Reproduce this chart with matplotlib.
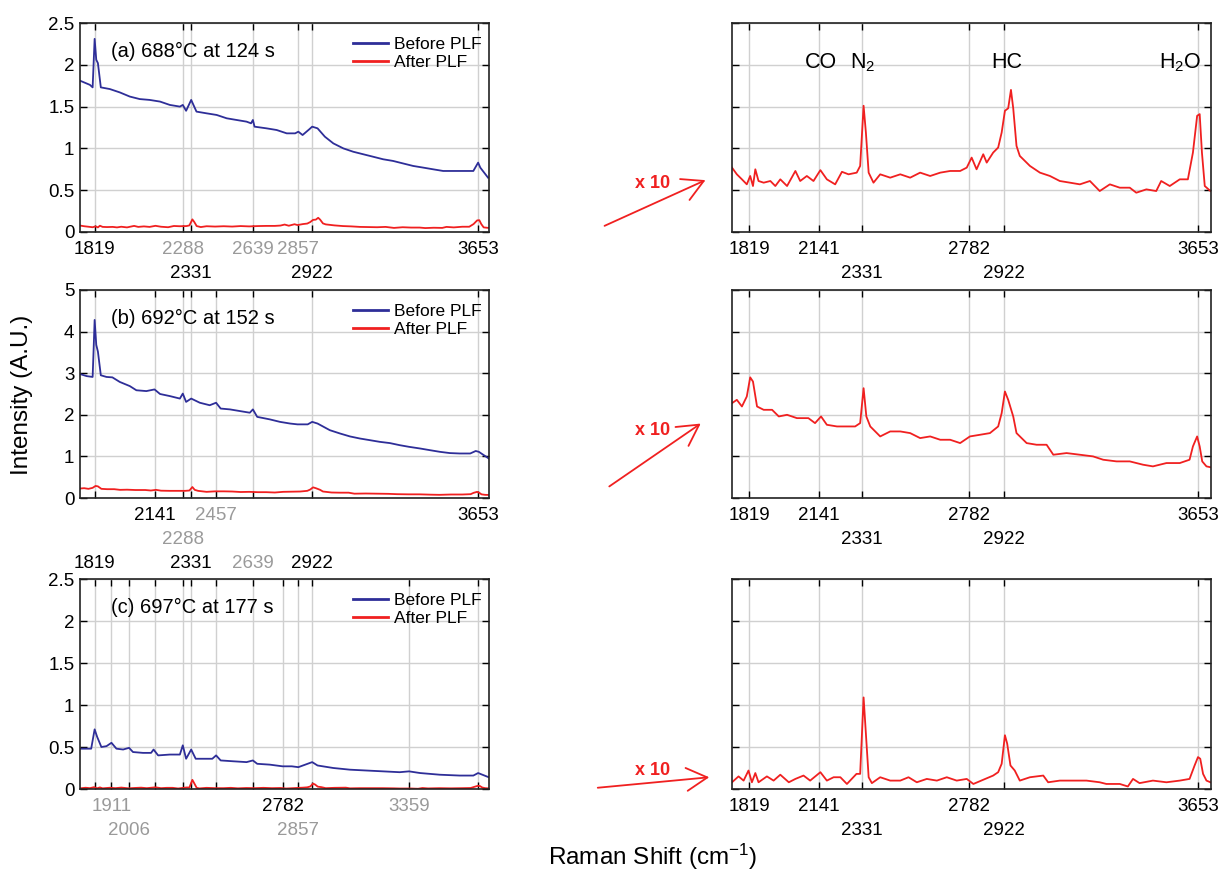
import numpy as np
import matplotlib
matplotlib.use("Agg")
import matplotlib.pyplot as plt
from matplotlib.patches import FancyArrowPatch
from matplotlib.ticker import FuncFormatter

plt.rcParams['font.family'] = ['Liberation Sans', 'DejaVu Sans']
plt.rcParams['mathtext.default'] = 'regular'

# --- Spectra: Raman shift (cm^-1) and intensity (A.U.) ---
# (a) 688 C at 124 s
a_before_x = [1738, 1793, 1808, 1819, 1828, 1837, 1853, 1902, 1956, 2010, 2063, 2115, 2170,
              2221, 2273, 2288, 2305, 2331, 2358, 2408, 2460, 2510, 2559, 2608, 2630, 2639,
              2647, 2705, 2754, 2802, 2842, 2857, 2877, 2909, 2922, 2947, 2981, 3020, 3066,
              3111, 3156, 3201, 3245, 3289, 3333, 3377, 3421, 3463, 3506, 3548, 3590, 3633,
              3653, 3662, 3694]
a_before_y = [1.81, 1.76, 1.73, 2.31, 2.06, 2.02, 1.73, 1.71, 1.67, 1.62, 1.59, 1.58, 1.56,
              1.52, 1.50, 1.52, 1.45, 1.58, 1.44, 1.42, 1.40, 1.36, 1.34, 1.32, 1.30, 1.34,
              1.26, 1.24, 1.22, 1.18, 1.18, 1.20, 1.16, 1.23, 1.26, 1.24, 1.14, 1.06, 1.00,
              0.96, 0.93, 0.90, 0.87, 0.85, 0.82, 0.79, 0.77, 0.75, 0.73, 0.73, 0.73, 0.73,
              0.83, 0.77, 0.65]
a_after_x = [1738, 1761, 1785, 1808, 1824, 1837, 1848, 1863, 1887, 1918, 1941, 1964, 1995,
             2033, 2055, 2085, 2115, 2146, 2175, 2212, 2242, 2271, 2307, 2322, 2337, 2347,
             2359, 2380, 2409, 2452, 2495, 2537, 2579, 2621, 2663, 2704, 2745, 2772, 2792,
             2812, 2839, 2853, 2879, 2899, 2913, 2926, 2939, 2950, 2959, 2972, 2985, 3025,
             3064, 3103, 3141, 3180, 3218, 3256, 3293, 3331, 3368, 3405, 3429, 3466, 3502,
             3520, 3551, 3587, 3616, 3634, 3649, 3658, 3666, 3676, 3696]
a_after_y = [0.077, 0.069, 0.063, 0.057, 0.067, 0.055, 0.075, 0.061, 0.059, 0.061, 0.055,
             0.063, 0.055, 0.073, 0.061, 0.067, 0.061, 0.074, 0.063, 0.057, 0.072, 0.069,
             0.071, 0.079, 0.151, 0.119, 0.071, 0.059, 0.069, 0.065, 0.069, 0.065, 0.071,
             0.067, 0.071, 0.073, 0.073, 0.077, 0.089, 0.075, 0.093, 0.083, 0.095, 0.101,
             0.119, 0.145, 0.148, 0.170, 0.148, 0.103, 0.091, 0.079, 0.071, 0.067, 0.061,
             0.059, 0.057, 0.061, 0.049, 0.057, 0.053, 0.053, 0.047, 0.051, 0.049, 0.061,
             0.055, 0.063, 0.063, 0.095, 0.139, 0.141, 0.095, 0.055, 0.049]

# (b) 692 C at 152 s
b_before_x = [1738, 1775, 1808, 1814, 1819, 1828, 1837, 1853, 1884, 1916, 1956, 2010, 2045,
              2098, 2141, 2170, 2221, 2273, 2288, 2305, 2331, 2375, 2425, 2457, 2480, 2526,
              2575, 2624, 2639, 2660, 2721, 2770, 2818, 2853, 2901, 2922, 2947, 3004, 3051,
              3096, 3141, 3186, 3230, 3275, 3318, 3359, 3407, 3449, 3492, 3534, 3576, 3620,
              3643, 3656, 3697]
b_before_y = [2.98, 2.93, 2.91, 3.64, 4.28, 3.68, 3.52, 2.95, 2.91, 2.90, 2.79, 2.69, 2.59,
              2.57, 2.61, 2.50, 2.45, 2.39, 2.51, 2.31, 2.39, 2.29, 2.23, 2.29, 2.15, 2.13,
              2.09, 2.05, 2.13, 1.95, 1.89, 1.83, 1.79, 1.77, 1.77, 1.83, 1.79, 1.63, 1.55,
              1.48, 1.43, 1.39, 1.35, 1.32, 1.27, 1.23, 1.19, 1.15, 1.11, 1.08, 1.07, 1.07,
              1.13, 1.11, 0.95]
b_after_x = [1738, 1761, 1785, 1808, 1824, 1837, 1856, 1887, 1926, 1957, 1995, 2040, 2092,
             2122, 2149, 2175, 2220, 2264, 2300, 2322, 2337, 2349, 2366, 2409, 2452, 2495,
             2537, 2579, 2621, 2663, 2704, 2745, 2785, 2826, 2866, 2899, 2913, 2926, 2939,
             2959, 2972, 3012, 3051, 3090, 3116, 3167, 3218, 3268, 3306, 3356, 3405, 3454,
             3490, 3539, 3587, 3622, 3634, 3649, 3658, 3667, 3682, 3696]
b_after_y = [0.228, 0.236, 0.220, 0.244, 0.290, 0.280, 0.220, 0.212, 0.212, 0.196, 0.200,
             0.192, 0.192, 0.180, 0.196, 0.176, 0.172, 0.172, 0.172, 0.180, 0.264, 0.196,
             0.172, 0.148, 0.160, 0.160, 0.156, 0.144, 0.148, 0.140, 0.140, 0.132, 0.148,
             0.152, 0.156, 0.172, 0.204, 0.256, 0.236, 0.196, 0.156, 0.132, 0.128, 0.128,
             0.104, 0.108, 0.104, 0.100, 0.092, 0.088, 0.088, 0.080, 0.076, 0.084, 0.084,
             0.092, 0.124, 0.148, 0.124, 0.088, 0.076, 0.074]

# (c) 697 C at 177 s
c_before_x = [1738, 1800, 1819, 1833, 1856, 1884, 1911, 1938, 1974, 2006, 2027, 2080, 2123,
              2136, 2160, 2221, 2273, 2288, 2305, 2331, 2354, 2408, 2438, 2457, 2480, 2542,
              2608, 2639, 2660, 2721, 2782, 2826, 2857, 2922, 2947, 3020, 3096, 3171, 3245,
              3318, 3359, 3407, 3492, 3576, 3633, 3653, 3697]
c_before_y = [0.48, 0.48, 0.71, 0.62, 0.50, 0.51, 0.55, 0.48, 0.47, 0.49, 0.44, 0.43, 0.43,
              0.47, 0.40, 0.41, 0.41, 0.52, 0.36, 0.47, 0.36, 0.36, 0.36, 0.40, 0.34, 0.33,
              0.32, 0.34, 0.30, 0.29, 0.27, 0.27, 0.26, 0.32, 0.28, 0.25, 0.23, 0.22, 0.21,
              0.20, 0.21, 0.19, 0.17, 0.16, 0.16, 0.19, 0.14]
c_after_x = [1738, 1769, 1793, 1816, 1832, 1848, 1863, 1902, 1933, 1964, 2003, 2033, 2070,
             2100, 2146, 2175, 2205, 2235, 2264, 2306, 2322, 2337, 2347, 2359, 2373, 2409,
             2452, 2495, 2530, 2565, 2607, 2649, 2690, 2731, 2772, 2799, 2839, 2879, 2899,
             2913, 2926, 2935, 2948, 2965, 2985, 3025, 3077, 3096, 3141, 3192, 3243, 3293,
             3318, 3368, 3398, 3417, 3441, 3490, 3539, 3587, 3622, 3640, 3652, 3660, 3670,
             3682, 3696]
c_after_y = [0.008, 0.015, 0.010, 0.022, 0.008, 0.019, 0.008, 0.015, 0.010, 0.017, 0.008,
             0.012, 0.016, 0.010, 0.020, 0.010, 0.014, 0.014, 0.006, 0.018, 0.018, 0.109,
             0.066, 0.014, 0.007, 0.014, 0.010, 0.010, 0.014, 0.008, 0.012, 0.010, 0.014,
             0.010, 0.012, 0.006, 0.011, 0.016, 0.020, 0.030, 0.064, 0.054, 0.028, 0.022,
             0.010, 0.014, 0.016, 0.008, 0.010, 0.010, 0.010, 0.008, 0.006, 0.006, 0.003,
             0.012, 0.007, 0.010, 0.008, 0.010, 0.012, 0.028, 0.038, 0.036, 0.018, 0.010,
             0.008]

titles = ['(a) 688°C at 124 s', '(b) 692°C at 152 s', '(c) 697°C at 177 s']
y_max = [2.5, 5, 2.5]
y_step = [0.5, 1, 0.5]
zoom_factor = 10

# tick positions, label row (-1 = no label) and grey flag for each left panel
a_ticks = [1819, 2288, 2331, 2639, 2857, 2922, 3653]
a_rows = [0, 0, 1, 0, 0, 1, 0]
a_grey = [0, 1, 0, 1, 1, 0, 0]
b_ticks = [1819, 2141, 2288, 2331, 2457, 2639, 2922, 3653]
b_rows = [2, 0, 1, 2, 0, 2, 2, 0]
b_grey = [0, 0, 1, 0, 1, 1, 0, 0]
c_ticks = [1819, 1911, 2006, 2141, 2288, 2331, 2457, 2639, 2782, 2857, 2922, 3359, 3653]
c_rows = [-1, 0, 1, -1, -1, -1, -1, -1, 0, 1, -1, 0, -1]
c_grey = [0, 1, 1, 0, 0, 0, 0, 0, 0, 1, 0, 1, 0]
r_ticks = [1819, 2141, 2331, 2782, 2922, 3653]
r_rows = [0, 0, 1, 0, 1, 0]

species = ['CO', 'N$_2$', 'HC', 'H$_2$O']
species_x = [2149, 2333, 2934, 3590]

LASER = 15802.8  # 632.8 nm excitation, cm^-1
BLUE = '#2e2e98'
RED = '#f02020'
GREY = '#9a9a9a'
ROW_OFF = [12.5, 30, 47.5]  # points below the axis


def to_nm(s):
    with np.errstate(divide='ignore', invalid='ignore'):
        return 1e7 / (LASER - np.asarray(s, dtype=float))


def to_shift(w):
    with np.errstate(divide='ignore', invalid='ignore'):
        return LASER - 1e7 / np.asarray(w, dtype=float)


def style_axes(ax, ticks, top, step, show_ylabels):
    ax.set_xscale('function', functions=(to_nm, to_shift))
    ax.set_xlim(1738, 3698)
    ax.set_ylim(0, top)
    ax.set_xticks(ticks)
    ax.set_xticklabels([])
    ax.set_xticks([], minor=True)
    ax.set_yticks(np.arange(0, top + step / 2, step))
    if show_ylabels:
        ax.yaxis.set_major_formatter(FuncFormatter(lambda v, p: '%g' % v))
    else:
        ax.set_yticklabels([])
    ax.tick_params(direction='in', top=True, right=True, length=5, width=1,
                   labelsize=13.5, pad=4)
    ax.grid(True, color='#d0d0d0', linewidth=1)
    ax.set_axisbelow(True)
    for sp in ax.spines.values():
        sp.set_linewidth(1.2)
        sp.set_color('#222222')


def put_labels(ax, ticks, rows, grey):
    for t, r, g in zip(ticks, rows, grey):
        if r < 0:
            continue
        ax.annotate(str(t), xy=(t, 0), xycoords=('data', 'axes fraction'),
                    xytext=(0, -ROW_OFF[r]), textcoords='offset points',
                    ha='center', va='center', fontsize=13.5,
                    color=GREY if g else 'black', annotation_clip=False)


W, H = 1231, 872
fig = plt.figure(figsize=(W / 100, H / 100), dpi=100)


def px_axes(x0, y0, x1, y1):
    return fig.add_axes([x0 / W, 1 - y1 / H, (x1 - x0) / W, (y1 - y0) / H])


rows_px = [(23, 232), (290, 498), (579, 789)]
before = [(a_before_x, a_before_y), (b_before_x, b_before_y), (c_before_x, c_before_y)]
after = [(a_after_x, a_after_y), (b_after_x, b_after_y), (c_after_x, c_after_y)]
left_ticks = [(a_ticks, a_rows, a_grey), (b_ticks, b_rows, b_grey), (c_ticks, c_rows, c_grey)]
arrows = [((602, 227), (708, 179)), ((607, 488), (703, 422)), ((595, 788), (712, 777))]

for i in range(3):
    y0, y1 = rows_px[i]
    axl = px_axes(80, y0, 489, y1)
    axr = px_axes(732, y0, 1211, y1)

    ticks, rws, gry = left_ticks[i]
    style_axes(axl, ticks, y_max[i], y_step[i], True)
    axl.plot(before[i][0], before[i][1], color=BLUE, lw=1.3, label='Before PLF')
    axl.plot(after[i][0], after[i][1], color=RED, lw=1.3, label='After PLF')
    put_labels(axl, ticks, rws, gry)
    axl.text(0.076, 0.865, titles[i], transform=axl.transAxes, fontsize=14.5,
             va='center', ha='left')
    leg = axl.legend(loc='upper left', bbox_to_anchor=(0.667, 0.935), frameon=False,
                     fontsize=12.5, handlelength=2.0, handletextpad=0.35,
                     labelspacing=0.2, borderpad=0, borderaxespad=0)
    for ln in leg.get_lines():
        ln.set_linewidth(2)

    style_axes(axr, r_ticks, y_max[i], y_step[i], False)
    axr.plot(after[i][0], np.array(after[i][1]) * zoom_factor, color=RED, lw=1.3)
    put_labels(axr, r_ticks, r_rows, [0] * len(r_ticks))
    if i == 0:
        for name, sx in zip(species, species_x):
            axr.annotate(name, xy=(sx, 0.785), xycoords=('data', 'axes fraction'),
                         ha='center', va='baseline', fontsize=15.5)

    (xa, ya), (xb, yb) = arrows[i]
    fig.add_artist(FancyArrowPatch((xa / W, 1 - ya / H), (xb / W, 1 - yb / H),
                                   transform=fig.transFigure, color=RED, lw=1.3,
                                   arrowstyle='->,head_length=1.0,head_width=0.55',
                                   mutation_scale=15))
    fig.text(653 / W, 1 - [183, 430, 770][i] / H, 'x 10', color=RED, fontsize=13,
             fontweight='bold', ha='center', va='center')

fig.text(22 / W, 1 - 395 / H, 'Intensity (A.U.)', rotation=90, fontsize=17.5,
         ha='center', va='center')
fig.text(653 / W, 1 - 857 / H, 'Raman Shift (cm$^{-1}$)', fontsize=17.5,
         ha='center', va='center')

fig.savefig('out.png', dpi=100)
